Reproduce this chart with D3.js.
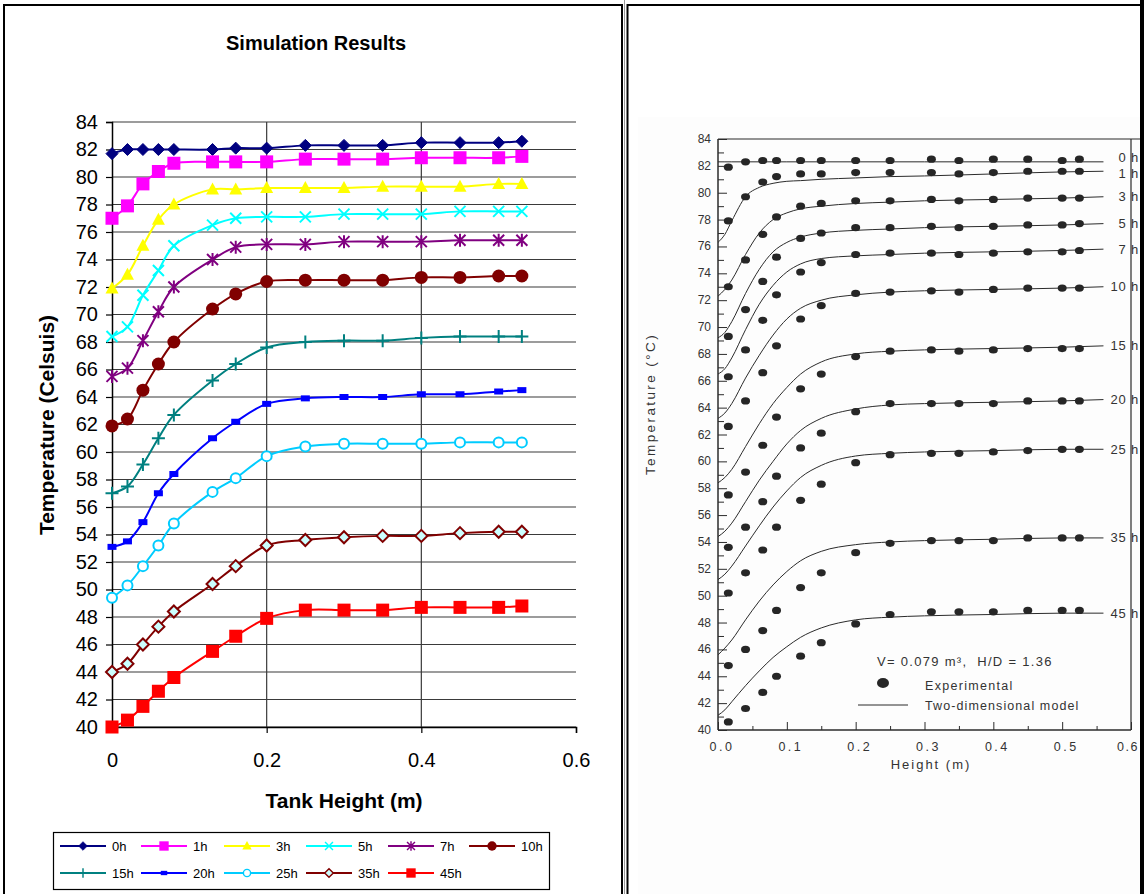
<!DOCTYPE html>
<html>
<head>
<meta charset="utf-8">
<title>Simulation Results vs Experiment</title>
<script src="https://d3js.org/d3.v7.min.js"></script>
<style>
  body { margin: 0; background: #fff; }
  svg text { font-family: Arial, "Liberation Sans", sans-serif; }
</style>
</head>
<body>
<svg id="chart" width="1144" height="894"></svg>
<script>
// ---- left panel: simulation results ----
var simHeights = [0, 0.02, 0.04, 0.06, 0.08, 0.13, 0.16, 0.2, 0.25, 0.3, 0.35, 0.4, 0.45, 0.5, 0.53];
var sim0h  = [81.7, 82.0, 82.0, 82.0, 82.0, 82.0, 82.1, 82.1, 82.3, 82.3, 82.3, 82.5, 82.5, 82.5, 82.6];
var sim1h  = [77.0, 77.9, 79.5, 80.4, 81.0, 81.1, 81.1, 81.1, 81.3, 81.3, 81.3, 81.4, 81.4, 81.4, 81.5];
var sim3h  = [71.9, 72.9, 75.0, 76.9, 78.0, 79.1, 79.1, 79.2, 79.2, 79.2, 79.3, 79.3, 79.3, 79.5, 79.5];
var sim5h  = [68.4, 69.1, 71.4, 73.2, 75.0, 76.5, 77.0, 77.1, 77.1, 77.3, 77.3, 77.3, 77.5, 77.5, 77.5];
var sim7h  = [65.5, 66.1, 68.1, 70.2, 72.0, 74.0, 74.9, 75.1, 75.1, 75.3, 75.3, 75.3, 75.4, 75.4, 75.4];
var sim10h = [61.9, 62.4, 64.5, 66.4, 68.0, 70.4, 71.5, 72.4, 72.5, 72.5, 72.5, 72.7, 72.7, 72.8, 72.8];
var sim15h = [57.0, 57.5, 59.1, 61.0, 62.7, 65.2, 66.4, 67.6, 68.0, 68.1, 68.1, 68.3, 68.4, 68.4, 68.4];
var sim20h = [53.1, 53.5, 54.9, 57.0, 58.4, 61.0, 62.2, 63.5, 63.9, 64.0, 64.0, 64.2, 64.2, 64.4, 64.5];
var sim25h = [49.4, 50.3, 51.7, 53.2, 54.8, 57.1, 58.1, 59.7, 60.4, 60.6, 60.6, 60.6, 60.7, 60.7, 60.7];
var sim35h = [44.0, 44.6, 46.0, 47.3, 48.4, 50.4, 51.7, 53.2, 53.6, 53.8, 53.9, 53.9, 54.1, 54.2, 54.2];
var sim45h = [40.0, 40.5, 41.5, 42.6, 43.6, 45.5, 46.6, 47.9, 48.5, 48.5, 48.5, 48.7, 48.7, 48.7, 48.8];
var simNames = ["0h", "1h", "3h", "5h", "7h", "10h", "15h", "20h", "25h", "35h", "45h"];
var simTempTicks = [40, 42, 44, 46, 48, 50, 52, 54, 56, 58, 60, 62, 64, 66, 68, 70, 72, 74, 76, 78, 80, 82, 84];
var simHeightTicks = [0, 0.2, 0.4, 0.6];

// ---- right panel: experiment vs two-dimensional model ----
var expHeights = [0.015, 0.04, 0.065, 0.085, 0.12, 0.15, 0.2, 0.25, 0.31, 0.35, 0.4, 0.45, 0.5, 0.525];
var exp0h  = [81.9, 82.3, 82.4, 82.4, 82.4, 82.4, 82.4, 82.4, 82.5, 82.4, 82.5, 82.5, 82.4, 82.5];
var exp1h  = [77.9, 79.7, 80.8, 81.2, 81.4, 81.4, 81.5, 81.5, 81.5, 81.4, 81.5, 81.6, 81.6, 81.6];
var exp3h  = [73.0, 75.0, 76.9, 78.2, 79.0, 79.2, 79.4, 79.4, 79.5, 79.4, 79.5, 79.6, 79.6, 79.6];
var exp5h  = [69.3, 71.3, 73.4, 75.2, 76.6, 77.0, 77.4, 77.4, 77.5, 77.4, 77.5, 77.6, 77.6, 77.7];
var exp7h  = [66.3, 68.3, 70.5, 72.4, 74.1, 74.8, 75.4, 75.5, 75.5, 75.4, 75.5, 75.6, 75.6, 75.7];
var exp10h = [62.6, 64.5, 66.6, 68.6, 70.6, 71.6, 72.5, 72.6, 72.7, 72.6, 72.8, 72.9, 72.9, 72.9];
var exp15h = [57.5, 59.2, 61.2, 63.3, 65.4, 66.5, 67.8, 68.2, 68.3, 68.2, 68.3, 68.4, 68.4, 68.4];
var exp20h = [53.6, 55.1, 57.0, 58.9, 61.0, 62.1, 63.7, 64.3, 64.3, 64.3, 64.3, 64.5, 64.5, 64.5];
var exp25h = [50.2, 51.7, 53.4, 55.1, 57.1, 58.3, 59.9, 60.5, 60.6, 60.6, 60.7, 60.8, 60.9, 60.9];
var exp35h = [44.8, 46.0, 47.4, 48.9, 50.6, 51.7, 53.2, 53.9, 54.1, 54.1, 54.1, 54.3, 54.3, 54.3];
var exp45h = [40.6, 41.6, 42.8, 44.0, 45.5, 46.5, 47.9, 48.6, 48.8, 48.8, 48.8, 48.9, 48.9, 48.9];

var modelHeights = [0, 0.01, 0.02, 0.04, 0.06, 0.08, 0.1, 0.12, 0.15, 0.2, 0.25, 0.3, 0.4, 0.5, 0.56];
var model0h  = [82.3, 82.3, 82.3, 82.3, 82.3, 82.3, 82.3, 82.3, 82.3, 82.3, 82.3, 82.3, 82.3, 82.3, 82.3];
var model1h  = [76.3, 76.9, 77.9, 79.7, 80.4, 80.7, 80.85, 80.9, 81.0, 81.1, 81.2, 81.25, 81.4, 81.55, 81.6];
var model3h  = [72.3, 72.8, 73.5, 75.4, 77.0, 78.0, 78.5, 78.8, 79.0, 79.2, 79.3, 79.4, 79.5, 79.6, 79.7];
var model5h  = [69.2, 69.6, 70.4, 72.5, 74.3, 75.6, 76.3, 76.7, 77.0, 77.2, 77.3, 77.4, 77.5, 77.6, 77.7];
var model7h  = [66.5, 66.9, 67.7, 69.8, 71.7, 73.1, 74.1, 74.7, 75.1, 75.3, 75.4, 75.5, 75.6, 75.7, 75.8];
var model10h = [63.2, 63.6, 64.3, 66.2, 67.9, 69.4, 70.6, 71.4, 72.0, 72.4, 72.6, 72.7, 72.8, 72.9, 73.0];
var model15h = [58.4, 58.8, 59.4, 61.1, 62.8, 64.3, 65.5, 66.5, 67.4, 68.0, 68.2, 68.3, 68.4, 68.5, 68.6];
var model20h = [54.4, 54.8, 55.4, 57.0, 58.6, 60.0, 61.3, 62.3, 63.2, 63.9, 64.2, 64.3, 64.4, 64.5, 64.6];
var model25h = [51.2, 51.6, 52.2, 53.7, 55.2, 56.6, 57.8, 58.8, 59.7, 60.4, 60.6, 60.7, 60.8, 60.9, 60.9];
var model35h = [45.6, 46.1, 46.7, 48.2, 49.6, 50.8, 51.8, 52.6, 53.3, 53.8, 54.0, 54.1, 54.2, 54.3, 54.3];
var model45h = [41.1, 41.5, 42.1, 43.3, 44.4, 45.4, 46.2, 46.9, 47.6, 48.2, 48.4, 48.5, 48.6, 48.7, 48.7];
var modelNames = ["0 h", "1 h", "3 h", "5 h", "7 h", "10 h", "15 h", "20 h", "25 h", "35 h", "45 h"];
var expTempTicks = [40, 42, 44, 46, 48, 50, 52, 54, 56, 58, 60, 62, 64, 66, 68, 70, 72, 74, 76, 78, 80, 82, 84];
var expHeightTicks = [0, 0.1, 0.2, 0.3, 0.4, 0.5, 0.6];
var expHeightLabels = ["0.0", "0.1", "0.2", "0.3", "0.4", "0.5", "0.6"];

var simValues = [sim0h, sim1h, sim3h, sim5h, sim7h, sim10h, sim15h, sim20h, sim25h, sim35h, sim45h];
var expValues = [exp0h, exp1h, exp3h, exp5h, exp7h, exp10h, exp15h, exp20h, exp25h, exp35h, exp45h];
var modelValues = [model0h, model1h, model3h, model5h, model7h, model10h, model15h, model20h, model25h, model35h, model45h];

// Excel-ish look for each series: line colour, marker type, marker fill
var simStyle = [
  { color: "#000080", marker: "diamond",  fill: "#000080" },
  { color: "#FF00FF", marker: "square",   fill: "#FF00FF" },
  { color: "#FFFF00", marker: "triangle", fill: "#FFFF00" },
  { color: "#00FFFF", marker: "x",        fill: "none" },
  { color: "#800080", marker: "star",     fill: "none" },
  { color: "#800000", marker: "circle",   fill: "#800000" },
  { color: "#008080", marker: "plus",     fill: "none" },
  { color: "#0000FF", marker: "dash",     fill: "#0000FF" },
  { color: "#00CCFF", marker: "ring",     fill: "#FFFFFF" },
  { color: "#800000", marker: "diamondOpen", fill: "#CCFFFF" },
  { color: "#FF0000", marker: "bigSquare", fill: "#FF0000" }
];

var svg = d3.select("#chart");

// frames around the two panels
svg.append("rect").attr("x", 4).attr("y", 5).attr("width", 618).attr("height", 900)
  .attr("fill", "#fff").attr("stroke", "#000").attr("stroke-width", 2);
svg.append("line").attr("x1", 624.5).attr("x2", 624.5).attr("y1", 0).attr("y2", 894)
  .attr("stroke", "#999").attr("stroke-width", 1);
svg.append("rect").attr("x", 627.5).attr("y", 5).attr("width", 514).attr("height", 900)
  .attr("fill", "#fff").attr("stroke", "#000").attr("stroke-width", 2);
svg.append("rect").attr("x", 638).attr("y", 117).attr("width", 502).attr("height", 777)
  .attr("fill", "#fdfdfd");
svg.append("line").attr("x1", 1142).attr("x2", 1142).attr("y1", 0).attr("y2", 894)
  .attr("stroke", "#000").attr("stroke-width", 4);

// ================= LEFT CHART =================
var x = d3.scaleLinear().domain([0, 0.6]).range([112, 576]);
var y = d3.scaleLinear().domain([40, 84]).range([727, 122]);
var left = svg.append("g");

// gridlines
left.selectAll(".hgrid").data(simTempTicks).enter().append("line")
  .attr("x1", x(0)).attr("x2", x(0.6))
  .attr("y1", function(d) { return y(d); }).attr("y2", function(d) { return y(d); })
  .attr("stroke", "#3a3a3a").attr("stroke-width", 1.2);
left.selectAll(".vgrid").data([0.2, 0.4]).enter().append("line")
  .attr("x1", function(d) { return x(d); }).attr("x2", function(d) { return x(d); })
  .attr("y1", y(84)).attr("y2", y(40))
  .attr("stroke", "#3a3a3a").attr("stroke-width", 1.2);

// axes
var yAxis = d3.axisLeft(y).tickValues(simTempTicks).tickSize(6).tickPadding(8);
var gy = left.append("g").attr("transform", "translate(" + x(0) + ",0)").call(yAxis);
var xAxis = d3.axisBottom(x).tickValues(simHeightTicks).tickSize(6).tickPadding(20)
  .tickFormat(function(d) { return d === 0 ? "0" : d3.format(".1f")(d); });
var gx = left.append("g").attr("transform", "translate(0," + y(40) + ")").call(xAxis);
[gx, gy].forEach(function(g) {
  g.select(".domain").attr("stroke", "#000").attr("stroke-width", 1.5);
  g.selectAll(".tick line").attr("stroke", "#000").attr("stroke-width", 1.2);
  g.selectAll("text").attr("font-size", 20).attr("fill", "#000")
    .style("font-family", "Arial, 'Liberation Sans', sans-serif");
});

// marker drawing
function drawMarker(g, type, cx, cy, color, fill, k) {
  k = k || 1;
  var t = "translate(" + cx + "," + cy + ") scale(" + k + ")";
  if (type === "diamond" || type === "diamondOpen") {
    g.append("path").attr("d", "M0,-6L6,0L0,6L-6,0Z").attr("transform", t)
      .attr("fill", fill).attr("stroke", color).attr("stroke-width", type === "diamondOpen" ? 2 : 1);
  } else if (type === "square" || type === "bigSquare") {
    g.append("rect").attr("x", -6.5).attr("y", -6.5).attr("width", 13).attr("height", 13)
      .attr("transform", t).attr("fill", fill);
  } else if (type === "triangle") {
    g.append("path").attr("d", "M0,-7L6.5,5L-6.5,5Z").attr("transform", t).attr("fill", fill);
  } else if (type === "x") {
    g.append("path").attr("d", "M-5.5,-5.5L5.5,5.5M-5.5,5.5L5.5,-5.5").attr("transform", t)
      .attr("stroke", color).attr("stroke-width", 2).attr("fill", "none");
  } else if (type === "star") {
    g.append("path").attr("d", "M-5.5,-5.5L5.5,5.5M-5.5,5.5L5.5,-5.5M0,-6.5L0,6.5").attr("transform", t)
      .attr("stroke", color).attr("stroke-width", 2).attr("fill", "none");
  } else if (type === "plus") {
    g.append("path").attr("d", "M-6.5,0L6.5,0M0,-6.5L0,6.5").attr("transform", t)
      .attr("stroke", color).attr("stroke-width", 2).attr("fill", "none");
  } else if (type === "circle") {
    g.append("circle").attr("r", 6.5).attr("transform", t).attr("fill", fill);
  } else if (type === "ring") {
    g.append("circle").attr("r", 5).attr("transform", t)
      .attr("fill", fill).attr("stroke", color).attr("stroke-width", 2);
  } else if (type === "dash") {
    g.append("rect").attr("x", -4.5).attr("y", -3).attr("width", 9).attr("height", 6)
      .attr("transform", t).attr("fill", fill);
  }
}

var simLine = d3.line()
  .x(function(d) { return x(d[0]); })
  .y(function(d) { return y(d[1]); })
  .curve(d3.curveCatmullRom.alpha(0.5));

simValues.forEach(function(vals, i) {
  var st = simStyle[i];
  var pts = simHeights.map(function(h, j) { return [h, vals[j]]; });
  var g = left.append("g");
  g.append("path").datum(pts).attr("d", simLine)
    .attr("fill", "none").attr("stroke", st.color).attr("stroke-width", 2);
  pts.forEach(function(p) {
    drawMarker(g, st.marker, x(p[0]), y(p[1]), st.color, st.fill, 1);
  });
});

// titles
left.append("text").attr("x", 316).attr("y", 50).attr("text-anchor", "middle")
  .attr("font-size", 20).attr("font-weight", "bold").text("Simulation Results");
left.append("text").attr("x", 344).attr("y", 808).attr("text-anchor", "middle")
  .attr("font-size", 21).attr("font-weight", "bold").text("Tank Height (m)");
left.append("text").attr("transform", "translate(54,425) rotate(-90)").attr("text-anchor", "middle")
  .attr("font-size", 21).attr("font-weight", "bold").text("Temperature (Celsuis)");

// legend
var legend = left.append("g");
legend.append("rect").attr("x", 53.5).attr("y", 832.5).attr("width", 496).attr("height", 57)
  .attr("fill", "#fff").attr("stroke", "#000").attr("stroke-width", 1.2);
var legCols = [60, 141, 224, 306, 388, 469];
simNames.forEach(function(name, i) {
  var row = i < 6 ? 0 : 1;
  var lx = legCols[row === 0 ? i : i - 6];
  var ly = 846 + row * 27;
  var st = simStyle[i];
  legend.append("line").attr("x1", lx).attr("x2", lx + 46).attr("y1", ly).attr("y2", ly)
    .attr("stroke", st.color).attr("stroke-width", 2);
  drawMarker(legend, st.marker, lx + 23, ly, st.color, st.fill, 0.72);
  legend.append("text").attr("x", lx + 52).attr("y", ly + 5).attr("font-size", 13).text(name);
});

// ================= RIGHT CHART =================
var xr = d3.scaleLinear().domain([0, 0.6]).range([718, 1131]);
var yr = d3.scaleLinear().domain([40, 84]).range([730, 139]);
var right = svg.append("g");
var ink = "#2b2b2b";

// plot frame
right.append("line").attr("x1", xr(0)).attr("x2", 1140).attr("y1", yr(84)).attr("y2", yr(84))
  .attr("stroke", ink).attr("stroke-width", 1.2);
right.append("line").attr("x1", xr(0)).attr("x2", xr(0.6)).attr("y1", yr(40)).attr("y2", yr(40))
  .attr("stroke", ink).attr("stroke-width", 1.5);
right.append("line").attr("x1", xr(0)).attr("x2", xr(0)).attr("y1", yr(84)).attr("y2", yr(40))
  .attr("stroke", ink).attr("stroke-width", 1.5);
right.append("line").attr("x1", xr(0.6)).attr("x2", xr(0.6)).attr("y1", yr(84)).attr("y2", yr(40))
  .attr("stroke", ink).attr("stroke-width", 1.2);

// inward ticks
var yrAxis = d3.axisRight(yr).tickValues(expTempTicks).tickSize(9).tickFormat("");
right.append("g").attr("transform", "translate(" + xr(0) + ",0)").call(yrAxis)
  .call(function(g) { g.select(".domain").remove(); g.selectAll("line").attr("stroke", ink); });
var yrMinor = d3.axisRight(yr).tickValues(d3.range(41, 84, 2)).tickSize(6).tickFormat("");
right.append("g").attr("transform", "translate(" + xr(0) + ",0)").call(yrMinor)
  .call(function(g) { g.select(".domain").remove(); g.selectAll("line").attr("stroke", ink); });
var xrAxis = d3.axisTop(xr).tickValues(expHeightTicks).tickSize(8).tickFormat("");
right.append("g").attr("transform", "translate(0," + yr(40) + ")").call(xrAxis)
  .call(function(g) { g.select(".domain").remove(); g.selectAll("line").attr("stroke", ink); });
var xrMinor = d3.axisTop(xr).tickValues(d3.range(0.05, 0.6, 0.1)).tickSize(4).tickFormat("");
right.append("g").attr("transform", "translate(0," + yr(40) + ")").call(xrMinor)
  .call(function(g) { g.select(".domain").remove(); g.selectAll("line").attr("stroke", ink); });

// tick labels
right.selectAll(".ylab").data(expTempTicks).enter().append("text")
  .attr("x", 711).attr("y", function(d) { return yr(d) + 4; })
  .attr("text-anchor", "end").attr("font-size", 12).attr("fill", "#333").text(function(d) { return d; });
right.selectAll(".xlab").data(expHeightTicks).enter().append("text")
  .attr("x", function(d, i) { return i === expHeightTicks.length - 1 ? 1139 : xr(d) + 4; })
  .attr("y", 751)
  .attr("text-anchor", function(d, i) { return i === expHeightTicks.length - 1 ? "end" : "middle"; })
  .attr("font-size", 12.5).attr("letter-spacing", function(d, i) { return i === expHeightTicks.length - 1 ? 1.5 : 2.5; })
  .attr("fill", "#333").text(function(d, i) { return expHeightLabels[i]; });
right.append("text").attr("x", 931).attr("y", 769).attr("text-anchor", "middle")
  .attr("font-size", 13).attr("letter-spacing", 2).attr("fill", "#333").text("Height (m)");
right.append("text").attr("transform", "translate(655,404) rotate(-90)").attr("text-anchor", "middle")
  .attr("font-size", 13.5).attr("letter-spacing", 2.4).attr("fill", "#333").text("Temperature (°C)");

// model curves
var modelLine = d3.line()
  .x(function(d) { return xr(d[0]); })
  .y(function(d) { return yr(d[1]); })
  .curve(d3.curveMonotoneX);
var labelNudge = [-4, 2, 0, 0, 0, 0, 0, 0, 0, 0, 0];
modelValues.forEach(function(vals, i) {
  var pts = modelHeights.map(function(h, j) { return [h, vals[j]]; });
  right.append("path").datum(pts).attr("d", modelLine)
    .attr("fill", "none").attr("stroke", ink).attr("stroke-width", 1);
  right.append("text").attr("x", 1139).attr("y", yr(vals[vals.length - 1]) + 4.5 + labelNudge[i])
    .attr("text-anchor", "end").attr("font-size", 13).attr("letter-spacing", 0.8)
    .attr("fill", "#333").text(modelNames[i]);
});

// experimental dots
expValues.forEach(function(vals) {
  right.selectAll(null).data(vals).enter().append("ellipse")
    .attr("cx", function(d, j) { return xr(expHeights[j]); })
    .attr("cy", function(d) { return yr(d); })
    .attr("rx", 4.5).attr("ry", 3.6).attr("fill", "#262626");
});

// legend
right.append("text").attr("x", 877).attr("y", 666).attr("font-size", 13).attr("letter-spacing", 1.3)
  .attr("fill", "#333").style("white-space", "pre").text("V= 0.079 m³,  H/D = 1.36");
right.append("ellipse").attr("cx", 883).attr("cy", 683).attr("rx", 6).attr("ry", 5).attr("fill", "#262626");
right.append("text").attr("x", 925).attr("y", 690).attr("font-size", 12.5).attr("letter-spacing", 1.3)
  .attr("fill", "#333").text("Experimental");
right.append("line").attr("x1", 858).attr("x2", 908).attr("y1", 705).attr("y2", 705)
  .attr("stroke", ink).attr("stroke-width", 1);
right.append("text").attr("x", 925).attr("y", 710).attr("font-size", 12.5).attr("letter-spacing", 1.1)
  .attr("fill", "#333").text("Two-dimensional model");
</script>
</body>
</html>
